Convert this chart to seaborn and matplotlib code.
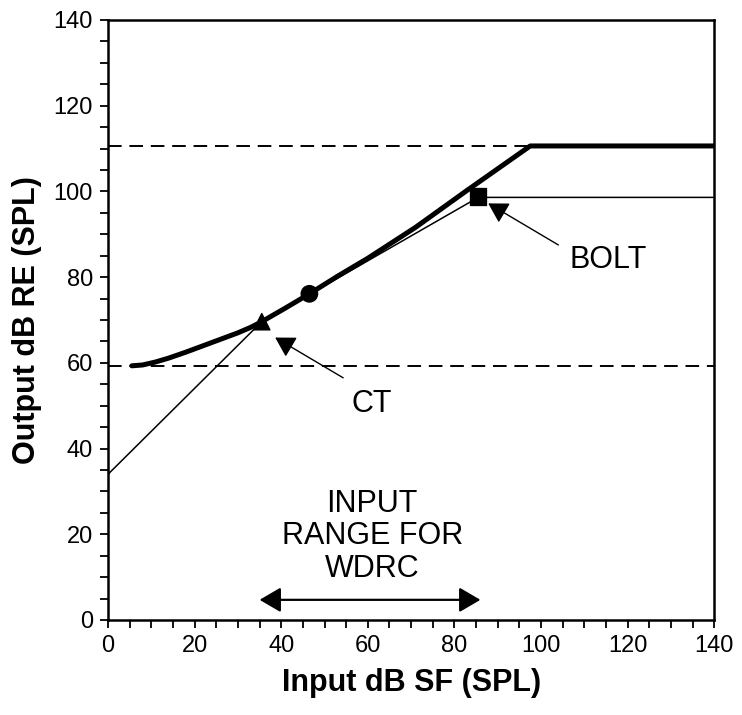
import matplotlib
matplotlib.use("Agg")
import matplotlib.pyplot as plt
import seaborn as sns
import numpy as np

# -----------------------------
# Data
# -----------------------------
# thick line: aided output with WDRC + output limiting
wdrc_x = [5.5, 8, 11, 14, 18, 22, 26, 30, 33, 35.5, 41, 46.5, 53, 60, 71, 83, 97.5, 140]
wdrc_y = [59.3, 59.5, 60.2, 61.1, 62.5, 64.0, 65.5, 67.0, 68.3, 69.6, 72.8, 76.1, 80.2, 84.4, 91.6, 100.3, 110.6, 110.6]

# thin line: linear gain up to CT, compression up to BOLT, then flat
thin_x = [0, 35.5, 85.5, 140]
thin_y = [34, 69.6, 98.6, 98.6]

# dashed reference levels
upper_level = 110.6
upper_x = [0, 97.5]
lower_level = 59.3
lower_x = [0, 140]

# markers
marker_x = [35.5, 46.5, 85.5]
marker_y = [69.6, 76.1, 98.8]
marker_kind = ["CT", "mid", "BOLT"]

# wdrc input range
range_start = 35
range_end = 86

# -----------------------------
# Plot
# -----------------------------
sns.set_style("ticks")
plt.rcParams["font.family"] = ["Liberation Sans", "DejaVu Sans"]
plt.rcParams.update({"text.color": "black", "axes.labelcolor": "black",
                     "xtick.color": "black", "ytick.color": "black"})

fig = plt.figure(figsize=(7.42, 7.15), dpi=100)
ax = fig.add_axes([0.1456, 0.1329, 0.8170, 0.8392])

sns.lineplot(x=lower_x, y=[lower_level] * len(lower_x), ax=ax, color="black",
             linewidth=1.4, linestyle=(0, (7, 4)))
sns.lineplot(x=upper_x, y=[upper_level] * len(upper_x), ax=ax, color="black",
             linewidth=1.4, linestyle=(0, (7, 4)))
sns.lineplot(x=thin_x, y=thin_y, ax=ax, color="black", linewidth=1.1, sort=False)
sns.lineplot(x=wdrc_x, y=wdrc_y, ax=ax, color="black", linewidth=3.6, sort=False)

sns.scatterplot(x=marker_x, y=marker_y, style=marker_kind, markers={"CT": "^", "mid": "o", "BOLT": "s"},
                ax=ax, color="black", s=140, edgecolor="black", legend=False, zorder=5)

arrow = dict(arrowstyle="-|>,head_length=0.6,head_width=0.35", color="black",
             lw=1.0, mutation_scale=20, shrinkA=0, shrinkB=0)
ax.annotate("", xy=(38.6, 65.9), xytext=(54.3, 56.5), arrowprops=arrow)
ax.annotate("", xy=(87.8, 97.2), xytext=(104, 87.5), arrowprops=arrow)
ax.text(61, 50.5, "CT", ha="center", va="center", fontsize=22)
ax.text(115.4, 84, "BOLT", ha="center", va="center", fontsize=22)

ax.text(61, 19.5, "INPUT\nRANGE FOR\nWDRC", ha="center", va="center", fontsize=22, linespacing=1.12)
ax.annotate("", xy=(range_start, 4.7), xytext=(range_end, 4.7),
            arrowprops=dict(arrowstyle="<|-|>,head_length=0.65,head_width=0.38", color="black",
                            lw=1.6, mutation_scale=20, shrinkA=0, shrinkB=0))

ax.set_xlim(0, 140)
ax.set_ylim(0, 140)
ax.set_xticks(np.arange(0, 141, 20))
ax.set_yticks(np.arange(0, 141, 20))
ax.set_xticks(np.arange(0, 141, 5), minor=True)
ax.set_yticks(np.arange(0, 141, 5), minor=True)
ax.tick_params(which="both", direction="out", length=6, width=1.3, labelsize=17,
               color="black", labelcolor="black", pad=5)

for s in ax.spines.values():
    s.set_linewidth(1.8)
    s.set_color("black")

ax.set_xlabel("Input dB SF (SPL)", fontsize=22, fontweight="bold", labelpad=8)
ax.set_ylabel("Output dB RE (SPL)", fontsize=22, fontweight="bold", labelpad=8)

fig.savefig("out.png", dpi=100)
plt.close(fig)
print("Saved out.png")
